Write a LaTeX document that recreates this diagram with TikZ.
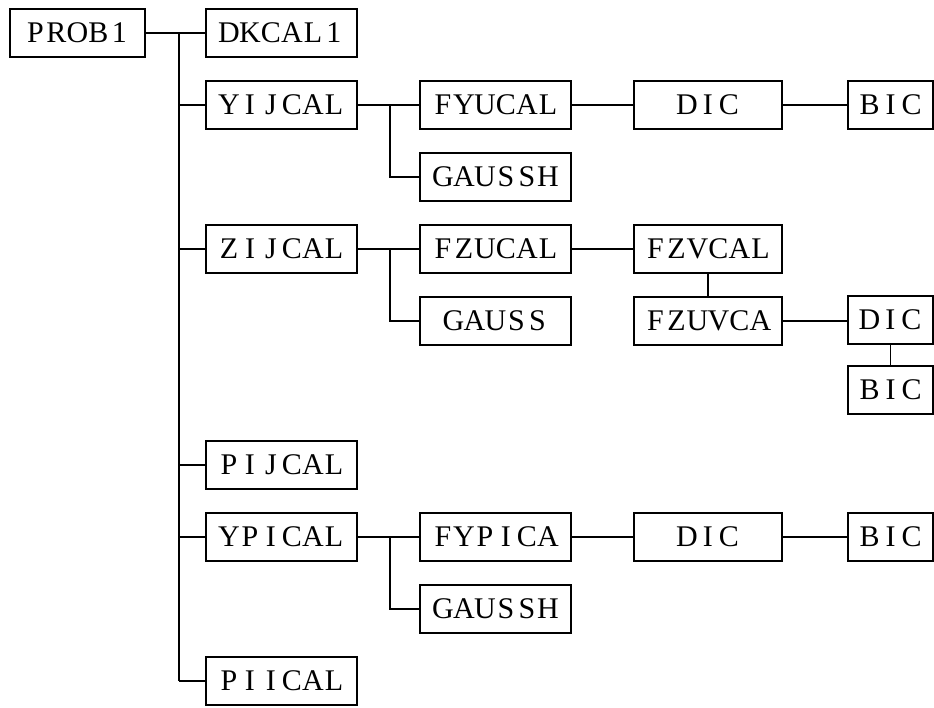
\documentclass[tikz,border=0pt]{standalone}
\usepackage{fontspec}
\setmainfont{Liberation Serif}
% fixed pitch for the letters of each routine name
\newlength\pitch
\setlength\pitch{21pt}
\makeatletter
\newcommand\spaced[1]{\spaced@loop#1\relax}
\def\spaced@loop#1{\ifx\relax#1\else\makebox[\pitch][c]{#1}\expandafter\spaced@loop\fi}
\makeatother
\begin{document}
\begin{tikzpicture}[x=1pt,y=-1pt,
  box/.style={draw,line width=1.8pt,inner sep=0pt,minimum height=48pt,
    text height=19.8pt,text depth=0pt,font=\fontsize{30}{32}\selectfont},
  wa/.style={box,minimum width=151pt},
  wb/.style={box,minimum width=151pt},
  wc/.style={box,minimum width=148pt},
  wd/.style={box,minimum width=85pt},
  link/.style={line width=1.3pt}]
\useasboundingbox (0,0) rectangle (934,707);

% main routine and first level
\node[box,minimum width=135pt] (prob) at (77.5,33) {\spaced{PROB1}};
\node[wa] (dk)  at (281.5,33)  {\spaced{DKCAL1}};
\node[wa] (yij) at (281.5,105) {\spaced{YIJCAL}};
\node[wa] (zij) at (281.5,249) {\spaced{ZIJCAL}};
\node[wa] (pij) at (281.5,465) {\spaced{PIJCAL}};
\node[wa] (ypi) at (281.5,537) {\spaced{YPICAL}};
\node[wa] (pii) at (281.5,681) {\spaced{PIICAL}};

% YIJCAL branch
\node[wb] (fyu)  at (495.5,105) {\spaced{FYUCAL}};
\node[wb] (gsh1) at (495.5,177) {\spaced{GAUSSH}};
\node[wc] (dic1) at (708,105)   {\spaced{DIC}};
\node[wd] (bic1) at (890.5,105) {\spaced{BIC}};

% ZIJCAL branch
\node[wb] (fzu)  at (495.5,249) {\spaced{FZUCAL}};
\node[wb] (gs)   at (495.5,321) {\spaced{GAUSS}};
\node[wc] (fzv)  at (708,249)   {\spaced{FZVCAL}};
\node[wc] (fzuv) at (708,321)   {\spaced{FZUVCA}};
\node[wd] (dic2) at (890.5,320) {\spaced{DIC}};
\node[wd] (bic2) at (890.5,390) {\spaced{BIC}};

% YPICAL branch
\node[wb] (fyp)  at (495.5,537) {\spaced{FYPICA}};
\node[wb] (gsh2) at (495.5,609) {\spaced{GAUSSH}};
\node[wc] (dic3) at (708,537)   {\spaced{DIC}};
\node[wd] (bic3) at (890.5,537) {\spaced{BIC}};

% trunk from PROB1
\coordinate (top) at (179,33);
\draw[link] (prob.east) -- (dk.west);
\draw[link] (top) -- (top |- pii.west);
\foreach \n in {yij,zij,pij,ypi,pii}
  \draw[link] (top |- \n.west) -- (\n.west);

% YIJCAL calls
\coordinate (j1) at (390,105);
\draw[link] (yij.east) -- (fyu.west);
\draw[link] (j1) |- (gsh1.west);
\draw[link] (fyu.east) -- (dic1.west);
\draw[link] (dic1.east) -- (bic1.west);

% ZIJCAL calls
\coordinate (j2) at (390,249);
\draw[link] (zij.east) -- (fzu.west);
\draw[link] (j2) |- (gs.west);
\draw[link] (fzu.east) -- (fzv.west);
\draw[link] (fzv.south) -- (fzuv.north);
\draw[link] (fzuv.east) -- (fzuv.east -| dic2.west);
\draw[link] (dic2.south) -- (bic2.north);

% YPICAL calls
\coordinate (j3) at (390,537);
\draw[link] (ypi.east) -- (fyp.west);
\draw[link] (j3) |- (gsh2.west);
\draw[link] (fyp.east) -- (dic3.west);
\draw[link] (dic3.east) -- (bic3.west);
\end{tikzpicture}
\end{document}
